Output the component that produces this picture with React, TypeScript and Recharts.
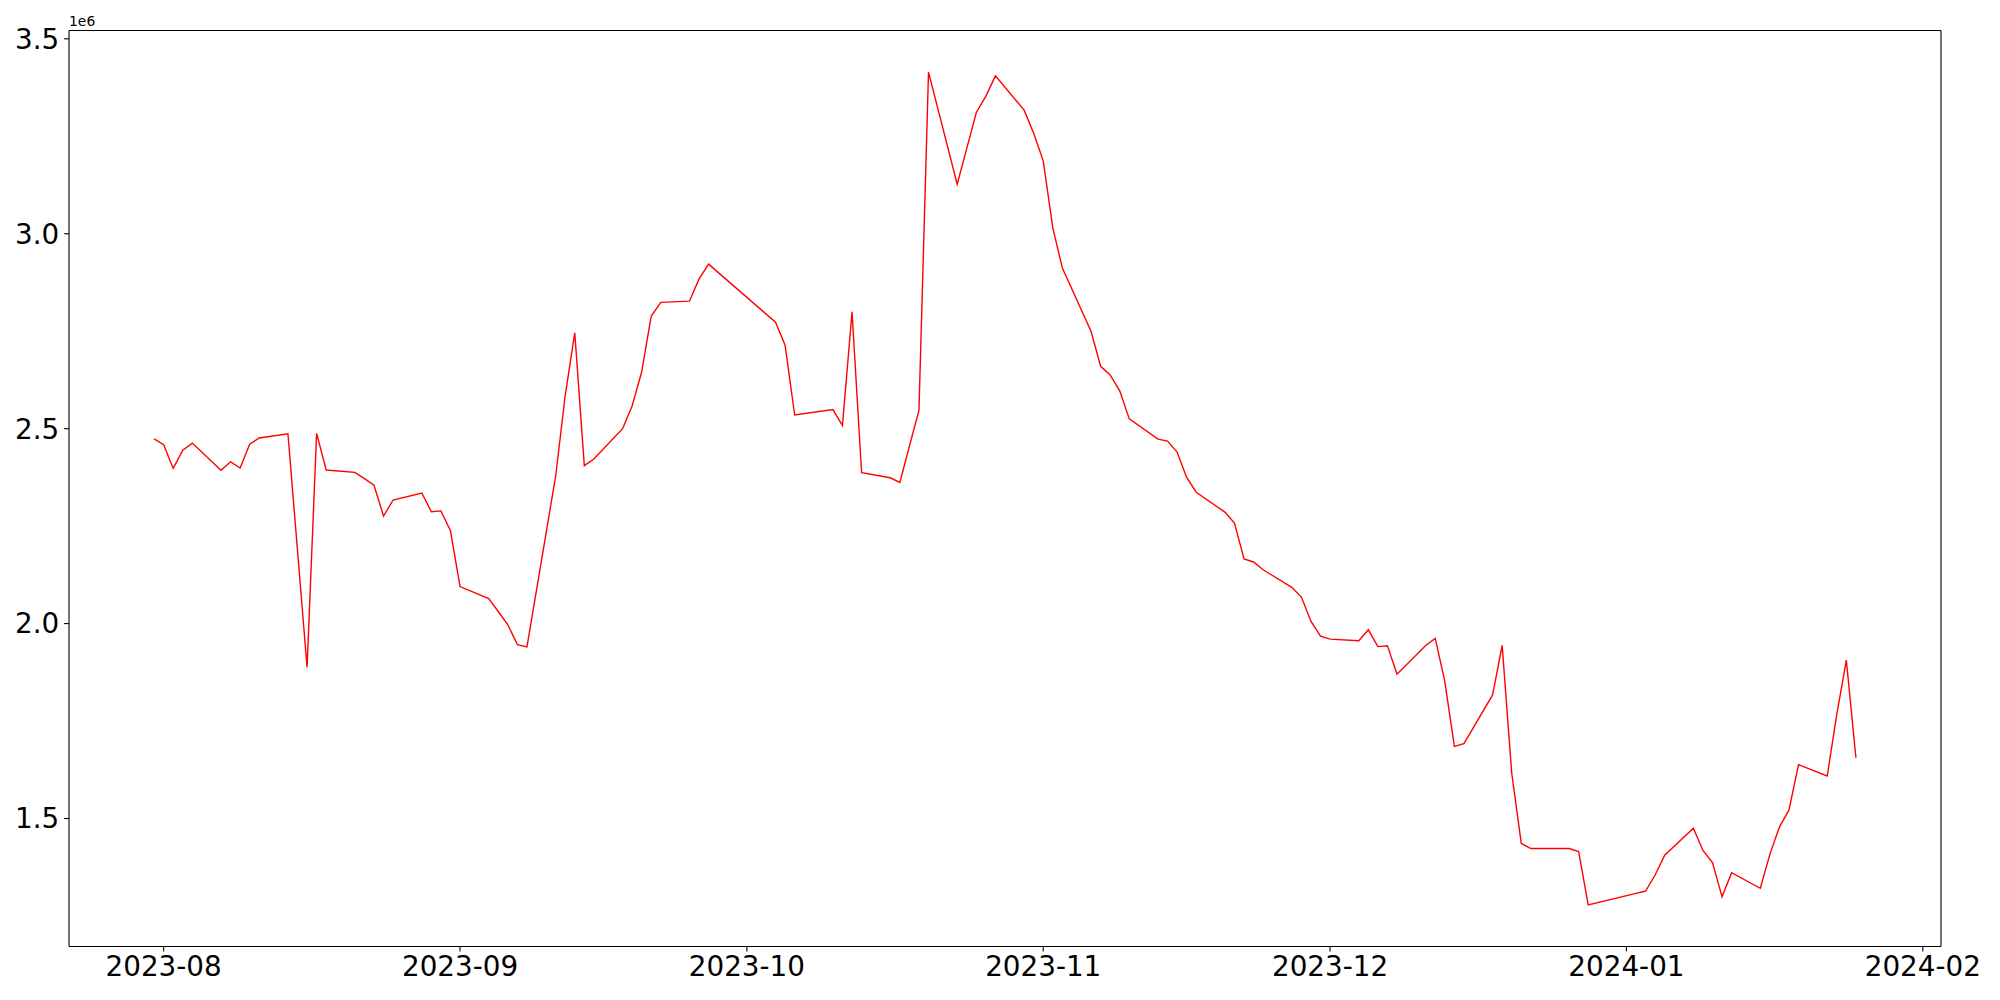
import React from "react";
import { LineChart, Line, XAxis, YAxis } from "recharts";

const dates: string[] = [
  "2023-07-31","2023-08-01","2023-08-02","2023-08-03","2023-08-04","2023-08-07","2023-08-08","2023-08-09","2023-08-10","2023-08-11",
  "2023-08-14","2023-08-16","2023-08-17","2023-08-18","2023-08-21","2023-08-22","2023-08-23","2023-08-24","2023-08-25","2023-08-28",
  "2023-08-29","2023-08-30","2023-08-31","2023-09-01","2023-09-04","2023-09-05","2023-09-06","2023-09-07","2023-09-08","2023-09-11",
  "2023-09-12","2023-09-13","2023-09-14","2023-09-15","2023-09-18","2023-09-19","2023-09-20","2023-09-21","2023-09-22","2023-09-25",
  "2023-09-26","2023-09-27","2023-10-04","2023-10-05","2023-10-06","2023-10-10","2023-10-11","2023-10-12","2023-10-13","2023-10-16",
  "2023-10-17","2023-10-18","2023-10-19","2023-10-20","2023-10-23","2023-10-24","2023-10-25","2023-10-26","2023-10-27","2023-10-30",
  "2023-10-31","2023-11-01","2023-11-02","2023-11-03","2023-11-06","2023-11-07","2023-11-08","2023-11-09","2023-11-10","2023-11-13",
  "2023-11-14","2023-11-15","2023-11-16","2023-11-17","2023-11-20","2023-11-21","2023-11-22","2023-11-23","2023-11-24","2023-11-27",
  "2023-11-28","2023-11-29","2023-11-30","2023-12-01","2023-12-04","2023-12-05","2023-12-06","2023-12-07","2023-12-08","2023-12-11",
  "2023-12-12","2023-12-13","2023-12-14","2023-12-15","2023-12-18","2023-12-19","2023-12-20","2023-12-21","2023-12-22","2023-12-26",
  "2023-12-27","2023-12-28","2024-01-02","2024-01-03","2024-01-04","2024-01-05","2024-01-08","2024-01-09","2024-01-10","2024-01-11",
  "2024-01-12","2024-01-15","2024-01-16","2024-01-17","2024-01-18","2024-01-19","2024-01-22","2024-01-23","2024-01-24","2024-01-25",
];

const values: number[] = [
  2474000,2459000,2398000,2445000,2463000,2393000,2415000,2399000,2460000,2476000,
  2487000,1888000,2488000,2394000,2388000,2372000,2355000,2276000,2317000,2335000,
  2287000,2289000,2238000,2095000,2064000,2031000,1997000,1946000,1940000,2378000,
  2585000,2746000,2405000,2422000,2500000,2558000,2646000,2789000,2824000,2827000,
  2884000,2922000,2773000,2714000,2535000,2549000,2508000,2800000,2387000,2374000,
  2362000,2455000,2547000,3414500,3127000,3219000,3311000,3353000,3405000,3317000,
  3258000,3187000,3015000,2912000,2750000,2660000,2638000,2597000,2525000,2473000,
  2468000,2440000,2375000,2337000,2286000,2258000,2166000,2158000,2138000,2093000,
  2068000,2006000,1968000,1960000,1956000,1984000,1941000,1943000,1870000,1944000,
  1962000,1852000,1685000,1692000,1817000,1944000,1616000,1436000,1423000,1423000,
  1415000,1278500,1308000,1314000,1355000,1406000,1475000,1418000,1387000,1299000,
  1361000,1321000,1408000,1478000,1522000,1638000,1609000,1767000,1906000,1656000,
];

const xTickLabels: string[] = ["2023-08", "2023-09", "2023-10", "2023-11", "2023-12", "2024-01", "2024-02"];
const yTickValues: number[] = [1500000, 2000000, 2500000, 3000000, 3500000];

const toTs = (s: string) => {
  const [y, m, d] = s.split("-").map(Number);
  return Date.UTC(y, m - 1, d || 1);
};

const data = dates.map((d, i) => ({ t: toTs(d), v: values[i] }));
const tMin = data[0].t;
const tMax = data[data.length - 1].t;
const pad = (tMax - tMin) * 0.05;
const xDomain: [number, number] = [tMin - pad, tMax + pad];
const vMin = Math.min(...values);
const vMax = Math.max(...values);
const vPad = (vMax - vMin) * 0.05;
const yDomain: [number, number] = [vMin - vPad, vMax + vPad];
const xTicks = xTickLabels.map(toTs);

const fmtX = (t: number) => {
  const d = new Date(t);
  const m = d.getUTCMonth() + 1;
  return `${d.getUTCFullYear()}-${m < 10 ? "0" + m : m}`;
};
const fmtY = (v: number) => (v / 1e6).toFixed(1);

const font = "DejaVu Sans";
const tickStyle = { fontSize: 27.8, fill: "#000", fontFamily: font };

export default function App() {
  return (
    <div style={{ position: "absolute", left: 0, top: 0, width: 2000, height: 1000, background: "#fff" }}>
      <LineChart
        width={2000}
        height={1000}
        data={data}
        margin={{ top: 29.5, right: 58, bottom: 0, left: 0 }}
      >
        <XAxis
          dataKey="t"
          type="number"
          scale="time"
          domain={xDomain}
          ticks={xTicks}
          tickFormatter={fmtX}
          allowDataOverflow
          height={53.5}
          tick={tickStyle}
          tickSize={4.9}
          tickMargin={4.9}
          stroke="#000"
          strokeWidth={1.1}
          interval={0}
        />
        <XAxis
          xAxisId="top"
          orientation="top"
          dataKey="t"
          type="number"
          domain={xDomain}
          allowDataOverflow
          height={1}
          tick={false}
          tickLine={false}
          stroke="#000"
          strokeWidth={1.1}
        />
        <YAxis
          type="number"
          domain={yDomain}
          ticks={yTickValues}
          tickFormatter={fmtY}
          allowDataOverflow
          width={69}
          tick={tickStyle}
          tickSize={4.9}
          tickMargin={4.9}
          stroke="#000"
          strokeWidth={1.1}
          interval={0}
        />
        <YAxis
          yAxisId="right"
          orientation="right"
          type="number"
          domain={yDomain}
          allowDataOverflow
          width={1}
          tick={false}
          tickLine={false}
          stroke="#000"
          strokeWidth={1.1}
        />
        <Line
          type="linear"
          dataKey="v"
          stroke="#ff0000"
          strokeWidth={1.4}
          dot={false}
          isAnimationActive={false}
        />
      </LineChart>
      <div
        style={{
          position: "absolute",
          left: 69,
          top: 14,
          fontSize: 13.9,
          lineHeight: "14px",
          fontFamily: font,
          color: "#000",
        }}
      >
        1e6
      </div>
    </div>
  );
}
